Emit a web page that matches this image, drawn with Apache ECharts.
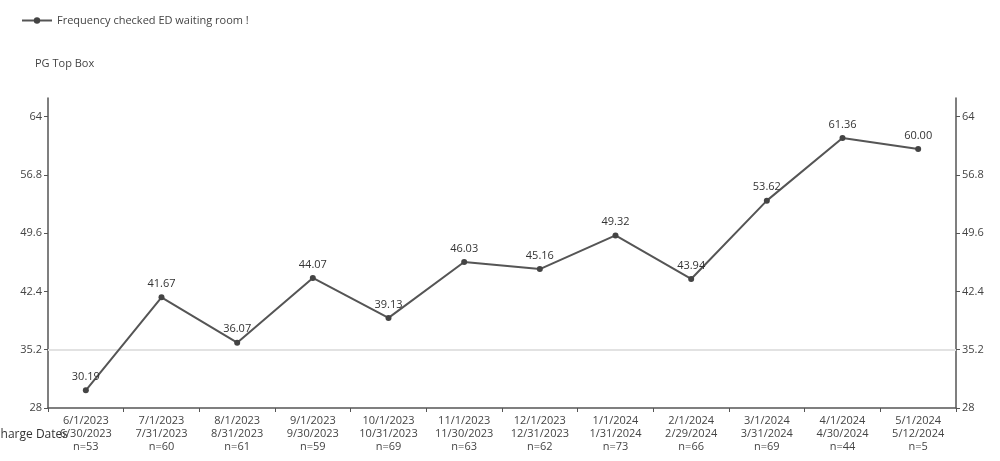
<!DOCTYPE html>
<html>
<head>
<meta charset="utf-8">
<script src="https://cdn.jsdelivr.net/npm/echarts@6/dist/echarts.min.js"></script>
<style>html,body{margin:0;padding:0;background:#fff;}#c{width:1000px;height:461px;}</style>
</head>
<body>
<div id="c"></div>
<script>
var startDates = ['6/1/2023','7/1/2023','8/1/2023','9/1/2023','10/1/2023','11/1/2023','12/1/2023','1/1/2024','2/1/2024','3/1/2024','4/1/2024','5/1/2024'];
var endDates = ['6/30/2023','7/31/2023','8/31/2023','9/30/2023','10/31/2023','11/30/2023','12/31/2023','1/31/2024','2/29/2024','3/31/2024','4/30/2024','5/12/2024'];
var counts = [53,60,61,59,69,63,62,73,66,69,44,5];
var values = [30.19,41.67,36.07,44.07,39.13,46.03,45.16,49.32,43.94,53.62,61.36,60.00];
var yTicks = [28,35.2,42.4,49.6,56.8,64];
var seriesName = 'Frequency checked ED waiting room !';
var refValue = 35.2;

var categories = startDates.map(function(s,i){ return s + '\n' + endDates[i] + '\nn=' + counts[i]; });
var font = '"Open Sans", "Noto Sans", sans-serif';
var txt = '#444';

function yAxisDef(pos){
  return {
    type:'value', position:pos, min:28, max:66.3,
    axisLine:{show:true, lineStyle:{color:'#555', width:1.5}},
    axisTick:{show:true, length:4, customValues:yTicks, lineStyle:{color:'#555'}},
    axisLabel:{customValues:yTicks, color:txt, fontFamily:font, fontSize:11, margin:6,
      formatter:function(v){ return String(Math.round(v*10)/10); }},
    splitLine:{show:false}
  };
}

var chart = echarts.init(document.getElementById('c'));
chart.setOption({
  animation:false,
  backgroundColor:'#fff',
  textStyle:{fontFamily:font},
  title:{text:'PG Top Box', left:30, top:53, textStyle:{fontSize:11, fontWeight:'normal', color:txt, fontFamily:font}},
  legend:{left:16, top:10, itemWidth:30, itemHeight:8, itemGap:5,
    textStyle:{fontSize:11, color:txt, fontFamily:font}, data:[seriesName]},
  grid:{left:48, right:44, top:98, bottom:53},
  graphic:[{type:'text', right:932, top:429, z:0, style:{text:'Discharge Dates', fill:'#333', font:'12px "Open Sans", sans-serif', textAlign:'right'}}],
  xAxis:{
    type:'category', data:categories, boundaryGap:true,
    axisLine:{lineStyle:{color:'#555', width:1.5}},
    axisTick:{show:true, length:4, lineStyle:{color:'#555'}},
    axisLabel:{interval:0, color:txt, fontFamily:font, fontSize:11, lineHeight:13, margin:6}
  },
  yAxis:[yAxisDef('left'), yAxisDef('right')],
  series:[{
    name:'ref', type:'line', data:[], z:1, silent:true,
    markLine:{silent:true, z:1, symbol:'none', label:{show:false},
      lineStyle:{color:'#e2e2e2', width:2, type:'solid'},
      data:[{yAxis:refValue}]}
  },{
    name:seriesName, type:'line', data:values, yAxisIndex:0, z:3,
    symbol:'circle', symbolSize:6,
    lineStyle:{color:'#555', width:2},
    itemStyle:{color:'#444'},
    label:{show:true, position:'top', distance:5, color:'#333', fontFamily:font, fontSize:11,
      formatter:function(p){ return p.value.toFixed(2); }}
  }]
});
</script>
</body>
</html>
